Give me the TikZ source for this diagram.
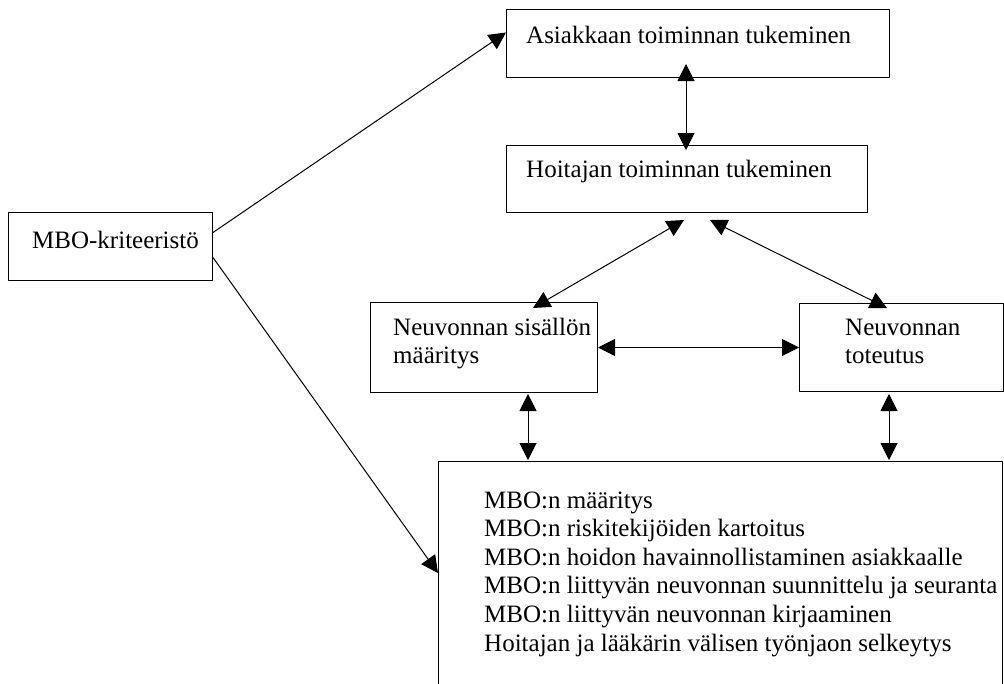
\documentclass[tikz,border=0pt]{standalone}
\usepackage{fontspec}
\setmainfont{Liberation Serif}
\usetikzlibrary{arrows.meta,calc}
\begin{document}
\begin{tikzpicture}[x=1pt, y=-1pt, line join=round, >={Triangle[length=17pt,width=17pt]},
  box/.style={draw, line width=1pt, rectangle, anchor=north west, inner sep=0pt},
  txt/.style={anchor=base west, inner sep=0pt, align=left, font=\fontsize{25}{28.6}\selectfont},
  link/.style={line width=1pt}]
\useasboundingbox (0,0) rectangle (1004,683);
\clip (0,0) rectangle (1004,683);
% boxes
\node[box, minimum width=204, minimum height=68] (mbo) at (8,212) {};
\node[box, minimum width=383, minimum height=68] (asiak) at (506,9) {};
\node[box, minimum width=361, minimum height=67] (hoit) at (506,145) {};
\node[box, minimum width=227, minimum height=90] (nsis) at (370,302) {};
\node[box, minimum width=204, minimum height=88] (ntot) at (799,303) {};
\node[box, minimum width=564, minimum height=260] (big) at (438,461) {};
% texts (base of a multi-line node is its last line)
\node[txt] (mbo-t) at ($(mbo.north west)+(24,36)$) {MBO-kriteeristö};
\node[txt] (asiak-t) at ($(asiak.north west)+(20,34)$) {Asiakkaan toiminnan tukeminen};
\node[txt] (hoit-t) at ($(hoit.north west)+(20,32)$) {Hoitajan toiminnan tukeminen};
\node[txt] (nsis-t) at ($(nsis.north west)+(23,61.6)$) {Neuvonnan sisällön\\määritys};
\node[txt] (ntot-t) at ($(ntot.north west)+(46,60.6)$) {Neuvonnan\\toteutus};
\node[txt] (big-t) at ($(big.north west)+(46,190)$) {MBO:n määritys\\MBO:n riskitekijöiden kartoitus\\MBO:n hoidon havainnollistaminen asiakkaalle\\MBO:n liittyvän neuvonnan suunnittelu ja seuranta\\MBO:n liittyvän neuvonnan kirjaaminen\\Hoitajan ja lääkärin välisen työnjaon selkeytys};
% connectors
\draw[link,->] ([yshift=14pt]mbo.east) -- ([yshift=11pt]asiak.west);
\draw[link,->] ([yshift=-11pt]mbo.east) -- ($(big.north west)+(0,112)$);
\draw[link,<->] ($(asiak.south west)+(180,-14)$) -- ($(hoit.north west)+(180,5)$);
\draw[link,<->] ($(hoit.south west)+(178,7)$) -- ($(nsis.north west)+(163,6)$);
\draw[link,<->] ($(hoit.south west)+(204,7)$) -- ($(ntot.north west)+(88,5)$);
\draw[link,<->] (nsis.east) -- (ntot.west);
\draw[link,<->] ($(nsis.south west)+(158,1)$) -- ($(big.north west)+(90,-1)$);
\draw[link,<->] ($(ntot.south west)+(90,2)$) -- ($(big.north west)+(451,-1)$);
\end{tikzpicture}
\end{document}
